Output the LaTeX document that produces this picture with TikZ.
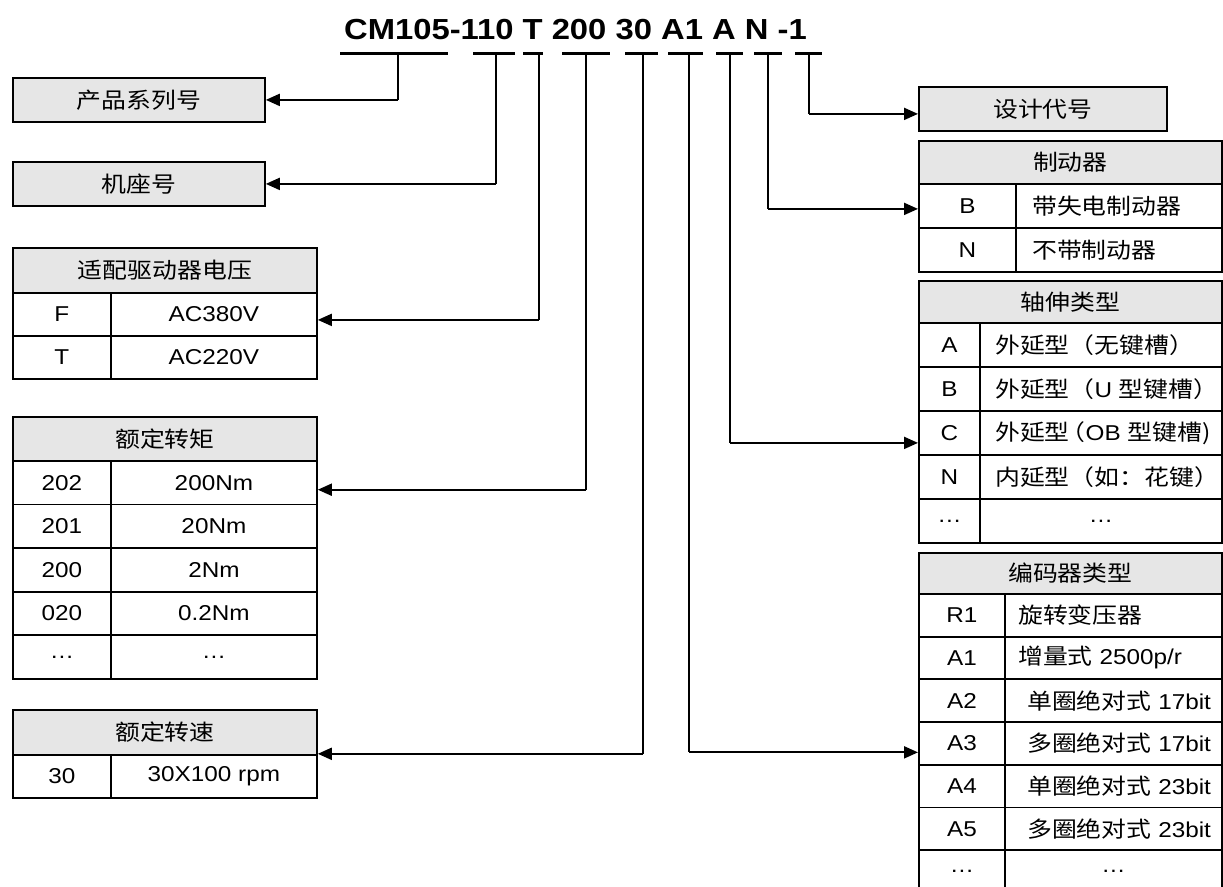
\documentclass[tikz,border=0pt]{standalone}
\usepackage{fontspec}
\setmainfont{Liberation Sans}[FakeStretch=1.13]
\newfontfamily\cjkfont{Noto Sans CJK SC}[FakeStretch=1.13]
\newcommand\zh[1]{{\cjkfont\fontsize{22}{26}\selectfont #1}}
\newcommand\dd{…}
\usetikzlibrary{arrows.meta}
\definecolor{hdrgray}{RGB}{230,230,230}
\tikzset{
  cell/.style={draw=black, line width=1.8pt, inner sep=0pt, anchor=north west},
  hdr/.style={cell, fill=hdrgray},
  txt/.style={anchor=west, inner sep=0pt},
  uline/.style={line width=3pt},
  vline/.style={line width=1.1pt},
  conn/.style={line width=2pt, -{Triangle[length=14pt,width=12pt]}},
}
\begin{document}
\begin{tikzpicture}[x=1pt,y=-1pt,font=\fontsize{21.5}{25}\selectfont]
\useasboundingbox (0,0) rectangle (1223,886);
\clip (0,0) rectangle (1223,886);

% ---------- title ----------
\node[anchor=base, inner sep=0pt, font=\bfseries\fontsize{29}{34}\selectfont] (title) at (575.5,39) {CM105-110 T 200 30 A1 A N -1};
\draw[uline] (340,53) -- (448,53);
\draw[uline] (473,53) -- (515,53);
\draw[uline] (523,53) -- (543,53);
\draw[uline] (562,53) -- (610,53);
\draw[uline] (625,53) -- (658,53);
\draw[uline] (668,53) -- (703,53);
\draw[uline] (716,53) -- (743,53);
\draw[uline] (754,53) -- (782,53);
\draw[uline] (795,53) -- (822,53);
\coordinate (u1) at (398,53);
\coordinate (u2) at (496,53);
\coordinate (u3) at (539,53);
\coordinate (u4) at (586,53);
\coordinate (u5) at (643,53);
\coordinate (u6) at (689,53);
\coordinate (u7) at (730,53);
\coordinate (u8) at (768,53);
\coordinate (u9) at (809,53);

% ---------- left boxes ----------
\node[hdr, minimum width=252, minimum height=44] (P) at (12,77) {\zh{产品系列号}};
\node[hdr, minimum width=252, minimum height=44] (J) at (12,161) {\zh{机座号}};

% ---------- 适配驱动器电压 ----------
\node[hdr, minimum width=304, minimum height=45] (Ah) at (12,247) {\zh{适配驱动器电压}};
\foreach \n/\y/\k/\v in {1/292/F/AC380V, 2/335/T/AC220V}{
  \node[cell, minimum width=98, minimum height=43] (Ak\n) at (12,\y) {\k};
  \node[cell, minimum width=206, minimum height=43] (Av\n) at (110,\y) {\v};
}

% ---------- 额定转矩 ----------
\node[hdr, minimum width=304, minimum height=44] (Th) at (12,416) {\zh{额定转矩}};
\foreach \n/\y/\k/\v in {1/460/202/200Nm, 2/503.6/201/20Nm, 3/547.2/200/2Nm, 4/590.8/020/0.2Nm, 5/634.4/\dd/\dd}{
  \node[cell, minimum width=98, minimum height=43.6] (Tk\n) at (12,\y) {\k};
  \node[cell, minimum width=206, minimum height=43.6] (Tv\n) at (110,\y) {\v};
}

% ---------- 额定转速 ----------
\node[hdr, minimum width=304, minimum height=45] (Sh) at (12,709) {\zh{额定转速}};
\node[cell, minimum width=98, minimum height=43] (Sk1) at (12,754) {30};
\node[cell, minimum width=206, minimum height=43] (Sv1) at (110,754) {30X100 rpm};

% ---------- 设计代号 ----------
\node[hdr, minimum width=248, minimum height=44] (D) at (918,86) {\zh{设计代号}};

% ---------- 制动器 ----------
\node[hdr, minimum width=303, minimum height=43] (Bh) at (918,140) {\zh{制动器}};
\foreach \n/\y/\k/\v in {1/183/B/{\zh{带失电制动器}}, 2/227/N/{\zh{不带制动器}}}{
  \node[cell, minimum width=97, minimum height=44] (Bk\n) at (918,\y) {\k};
  \node[cell, minimum width=206, minimum height=44] (Bv\n) at (1015,\y) {};
  \node[txt] (Bt\n) at ([xshift=17pt]Bv\n.west) {\v};
}

% ---------- 轴伸类型 ----------
\node[hdr, minimum width=303, minimum height=42] (Zh) at (918,280) {\zh{轴伸类型}};
\foreach \n/\y/\k/\v in {1/322/A/{\zh{外延型（无键槽）}}, 2/366/B/{\zh{外延型（}U \zh{型键槽）}}, 3/410/C/{\zh{外延型\kern-9pt（}OB \zh{型键槽)}}, 4/454/N/{\zh{内延型（如：花键）}}}{
  \node[cell, minimum width=61, minimum height=44] (Zk\n) at (918,\y) {\k};
  \node[cell, minimum width=242, minimum height=44] (Zv\n) at (979,\y) {};
  \node[txt] (Zt\n) at ([xshift=16pt]Zv\n.west) {\v};
}
\node[cell, minimum width=61, minimum height=44] (Zk5) at (918,498) {\dd};
\node[cell, minimum width=242, minimum height=44] (Zv5) at (979,498) {\dd};

% ---------- 编码器类型 ----------
\node[hdr, minimum width=303, minimum height=41] (Eh) at (918,552) {\zh{编码器类型}};
\foreach \n/\y/\k/\o/\v in {1/593/R1/14/{\zh{旋转变压器}}, 2/635.7/A1/14/{\zh{增量式} 2500p/r}, 3/678.4/A2/23/{\zh{单圈绝对式} 17bit}, 4/721.1/A3/23/{\zh{多圈绝对式} 17bit}, 5/763.8/A4/23/{\zh{单圈绝对式} 23bit}, 6/806.5/A5/23/{\zh{多圈绝对式} 23bit}}{
  \node[cell, minimum width=86, minimum height=42.7] (Ek\n) at (918,\y) {\k};
  \node[cell, minimum width=217, minimum height=42.7] (Ev\n) at (1004,\y) {};
  \node[txt] (Et\n) at ([xshift=\o pt]Ev\n.west) {\v};
}
\node[cell, minimum width=86, minimum height=42.7] (Ek7) at (918,849.2) {\dd};
\node[cell, minimum width=217, minimum height=42.7] (Ev7) at (1004,849.2) {\dd};

% ---------- connectors ----------
\coordinate (X1) at (P.east);
\coordinate (X2) at (J.east);
\coordinate (X3) at ([yshift=-5.5pt]Av1.east);
\coordinate (X4) at ([yshift=-7pt]Tv1.east);
\coordinate (X5) at ([yshift=2pt]Sh.south east);
\coordinate (X6) at ([yshift=-9pt]Ek4.west);
\coordinate (X7) at ([yshift=-10pt]Zk3.west);
\coordinate (X8) at ([yshift=-3pt]Bk1.west);
\coordinate (X9) at ([yshift=-5pt]D.west);
\foreach \i in {1,...,9}{
  \draw[vline] (u\i) -- (u\i |- X\i);
  \draw[conn] (u\i |- X\i) -- (X\i);
}
\end{tikzpicture}
\end{document}
